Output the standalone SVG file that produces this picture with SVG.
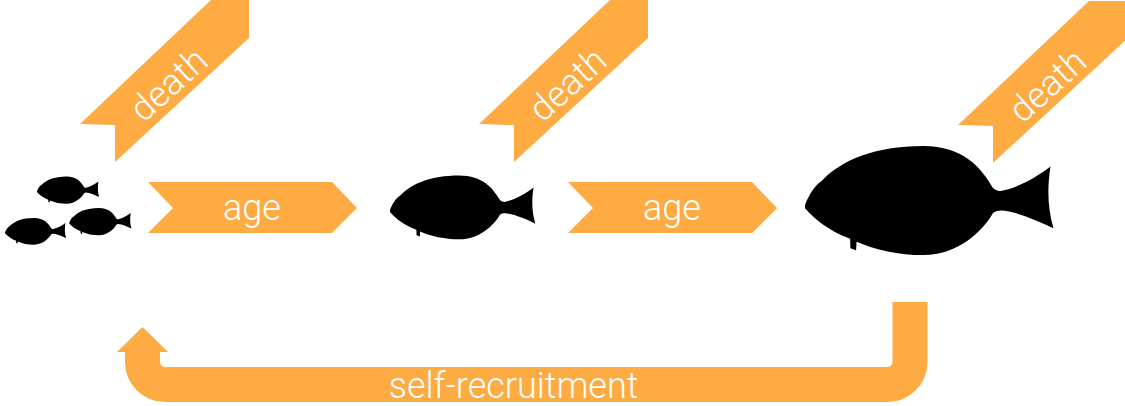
<svg xmlns="http://www.w3.org/2000/svg" width="1125" height="406" viewBox="0 0 1125 406">
  <style>
    .band { fill: #FDAB42; }
    .fish { fill: #000000; }
    .lbl { fill: #FFFFFF; font-family: "Roboto", "Liberation Sans", Arial, sans-serif; font-weight: 300; font-size: 36px; text-anchor: middle; }
  </style>
  <defs>
    <!-- fish silhouette, nose at origin, 100 units long -->
    <path id="fish" d="M0,0 C1.5,-4 4,-8 6.8,-9.8 L7.6,-10.6 C15,-18 28,-23.8 47.6,-23.8 C64,-23.8 71,-15 75.8,-6.9 C77,-5.9 78,-5.6 79,-5.6 C86,-7 93,-11 99,-15.5 C97.5,-6 98,2 100.2,9.4 C93,6 85,2.5 79,2.2 C78,2.2 77,2.5 75.8,3.2 C72,10 62,20.2 47.6,20.2 C38,20.2 28,18 20.8,14.8 L20.6,18.2 L18.3,17.4 L18.2,13.6 C10,10.5 4,6 0,1.3 Z"/>
    <!-- diagonal banner, tail notch at origin -->
    <polygon id="ribbon" points="0,0 131,-124 169,-124 169,-86 35,38 35,1"/>
    <!-- chevron band -->
    <polygon id="chevron" points="0,0 184,0 209,26 184,51 0,51 25,26"/>
  </defs>

  <!-- juveniles -->
  <g id="juveniles" class="fish">
    <use href="#fish" transform="translate(37,191.2) scale(0.62)"/>
    <use href="#fish" transform="translate(5,232.4) scale(0.61)"/>
    <use href="#fish" transform="translate(69.3,222.7) scale(0.62)"/>
  </g>

  <!-- sub-adult -->
  <g id="subadult" class="fish">
    <use href="#fish" transform="translate(390,210) scale(1.45)"/>
  </g>

  <!-- adult -->
  <g id="adult" class="fish">
    <use href="#fish" transform="translate(805,205) scale(2.48)"/>
  </g>

  <!-- mortality banners -->
  <g id="death1">
    <use href="#ribbon" class="band" transform="translate(80,124)"/>
    <text class="lbl" transform="translate(168,84) rotate(-42)" x="0" y="13">death</text>
  </g>
  <g id="death2">
    <use href="#ribbon" class="band" transform="translate(479,124)"/>
    <text class="lbl" transform="translate(567,84) rotate(-42)" x="0" y="13">death</text>
  </g>
  <g id="death3">
    <use href="#ribbon" class="band" transform="translate(958,125)"/>
    <text class="lbl" transform="translate(1047,85) rotate(-42)" x="0" y="13">death</text>
  </g>

  <!-- transitions between stages -->
  <g id="connectors">
    <g id="age1">
      <use href="#chevron" class="band" transform="translate(148,182)"/>
      <text class="lbl" x="252" y="220">age</text>
    </g>
    <g id="age2">
      <use href="#chevron" class="band" transform="translate(568,182)"/>
      <text class="lbl" x="672" y="220">age</text>
    </g>
    <g id="recruitment">
      <path d="M910,302 V362 A22.5,22.5 0 0 1 887.5,384.5 H165 A22.5,22.5 0 0 1 142.5,362 V350" fill="none" stroke="#FDAB42" stroke-width="35"/>
      <polygon class="band" points="117,352 142.5,327 168,352"/>
      <text class="lbl" x="513.5" y="398">self-recruitment</text>
    </g>
  </g>
</svg>
